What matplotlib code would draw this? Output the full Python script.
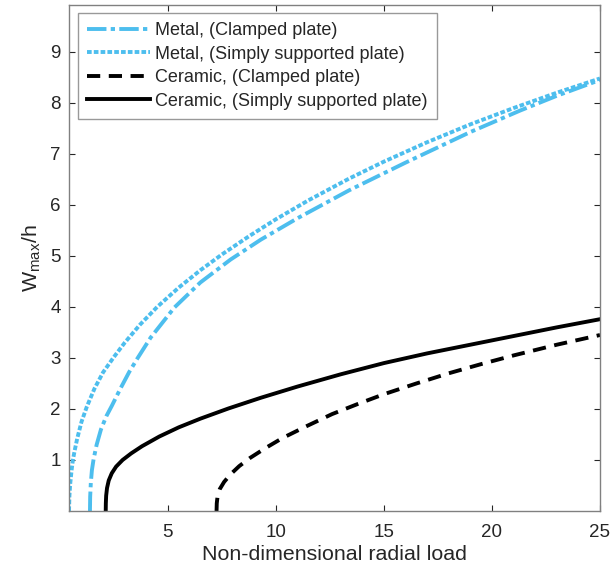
import numpy as np
import matplotlib
matplotlib.use('Agg')
import matplotlib.pyplot as plt

plt.rcParams['font.family'] = ['Liberation Sans', 'DejaVu Sans']
plt.rcParams['mathtext.fontset'] = 'custom'
plt.rcParams['mathtext.rm'] = 'Liberation Sans'

# values
metal_ss_x = [0.42, 0.44, 0.48, 0.54, 0.6, 0.68, 0.8, 1.0, 1.25, 1.6, 2.0, 2.5, 3.0, 3.7, 4.5,
              5.5, 6.5, 7.5, 8.8, 10.0, 11.5, 13.4, 15.0, 17.0, 19.0, 21.0, 23.0, 25.0]
metal_ss_y = [0.0, 0.3, 0.55, 0.8, 1.0, 1.18, 1.42, 1.75, 2.05, 2.4, 2.72, 3.02, 3.3, 3.65, 4.0,
              4.38, 4.72, 5.03, 5.4, 5.72, 6.09, 6.52, 6.85, 7.23, 7.58, 7.9, 8.2, 8.48]

metal_cl_x = [1.39, 1.40, 1.43, 1.48, 1.56, 1.7, 1.9, 2.15, 2.4, 2.8, 3.2, 3.6, 4.2, 5.3,
              6.5, 7.9, 9.3, 11.0, 13.4, 16.0, 19.0, 21.3, 23.0, 25.0]
metal_cl_y = [0.0, 0.28, 0.55, 0.8, 1.02, 1.3, 1.6, 1.86, 2.06, 2.4, 2.72, 3.0, 3.4, 3.99,
              4.48, 4.93, 5.32, 5.74, 6.29, 6.83, 7.43, 7.85, 8.14, 8.45]

cer_ss_x = [2.12, 2.125, 2.14, 2.18, 2.26, 2.4, 2.6, 2.9, 3.3, 3.8, 4.6, 5.5, 6.5, 7.8, 9.3,
            11.0, 13.0, 15.0, 17.0, 19.0, 21.0, 23.0, 25.0]
cer_ss_y = [0.0, 0.15, 0.3, 0.45, 0.6, 0.74, 0.87, 1.0, 1.13, 1.27, 1.46, 1.64, 1.81, 2.01, 2.22,
            2.44, 2.68, 2.9, 3.09, 3.26, 3.43, 3.6, 3.76]

cer_cl_x = [7.25, 7.26, 7.3, 7.4, 7.6, 7.9, 8.3, 8.8, 9.5, 10.3, 11.4, 12.6, 13.8, 15.0, 16.5,
            18.0, 19.5, 21.0, 23.0, 25.0]
cer_cl_y = [0.0, 0.15, 0.3, 0.43, 0.57, 0.72, 0.88, 1.04, 1.23, 1.43, 1.66, 1.9, 2.1, 2.29, 2.5,
            2.7, 2.88, 3.05, 3.26, 3.45]

blue = '#4DBEEE'
txt = '#262626'
edge = '#808080'

fig = plt.figure(figsize=(6.14, 5.77), dpi=100)
ax = fig.add_axes([69/614, 1 - 511/577, 531/614, 506/577])

ax.plot(metal_cl_x, metal_cl_y, color=blue, lw=2.8, dashes=(5.0, 1.1, 1.1, 1.1),
        label='Metal, (Clamped plate)')
ax.plot(metal_ss_x, metal_ss_y, color=blue, lw=2.8, dashes=(1.2, 0.55),
        label='Metal, (Simply supported plate)')
ax.plot(cer_cl_x, cer_cl_y, color='black', lw=2.8, dashes=(3.4, 2.2),
        label='Ceramic, (Clamped plate)')
ax.plot(cer_ss_x, cer_ss_y, color='black', lw=2.8, ls='-',
        label='Ceramic, (Simply supported plate)')

ax.set_xlim(0.42, 25)
ax.set_ylim(0, 9.92)
ax.set_xticks([5, 10, 15, 20, 25])
ax.set_yticks(range(1, 10))
ax.tick_params(direction='in', top=True, right=True, labelsize=13.5,
               colors=txt, length=4, width=0.8)
ax.tick_params(axis='x', pad=9.5)
ax.tick_params(axis='y', pad=6)
for s in ax.spines.values():
    s.set_color(edge)
    s.set_linewidth(1.0)

ax.set_xlabel('Non-dimensional radial load', fontsize=15.4, color=txt, labelpad=3)
ax.set_ylabel(r'W$_{\mathrm{max}}$/h', fontsize=15.4, color=txt, labelpad=5)

leg = ax.legend(loc='upper left', bbox_to_anchor=(9/531, 1 - 8/506), borderaxespad=0,
                fontsize=13, handlelength=3.5, handletextpad=0.28, borderpad=0.5,
                labelspacing=0.36, frameon=True, fancybox=False)
leg.get_frame().set_edgecolor(edge)
leg.get_frame().set_linewidth(1.0)
for t in leg.get_texts():
    t.set_color(txt)

fig.savefig('out.png', dpi=100)
